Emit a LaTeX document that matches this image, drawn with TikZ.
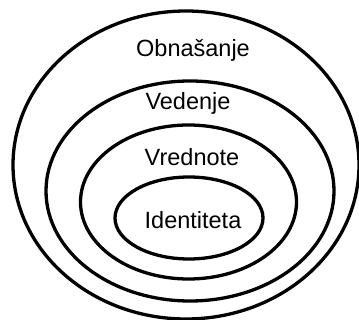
\documentclass[tikz,border=0pt]{standalone}
\usepackage{fontspec}
\setmainfont{Liberation Sans}
\definecolor{ringblack}{RGB}{0,0,0}
\tikzset{
  ring/.style={
    draw=ringblack,
    line width=3.3pt
  },
  ring-label/.style={
    inner sep=0pt,
    font=\fontsize{23.5}{28}\selectfont
  }
}

\begin{document}
\begin{tikzpicture}[x=1pt,y=-1pt]
  \useasboundingbox (0,0) rectangle (359,320);
  \draw[ring] (186,165) ellipse [x radius=173, y radius=154];
  \draw[ring] (190,191) ellipse [x radius=144, y radius=110];
  \draw[ring] (188.5,202) ellipse [x radius=108, y radius=77];
  \draw[ring] (189,218) ellipse [x radius=74, y radius=41];
  \node[ring-label] (obnasanje) at (193,50) {Obnašanje};
  \node[ring-label] (vedenje) at (188,103) {Vedenje};
  \node[ring-label] (vrednote) at (192,157) {Vrednote};
  \node[ring-label] (identiteta) at (193,220) {Identiteta};
\end{tikzpicture}
\end{document}
